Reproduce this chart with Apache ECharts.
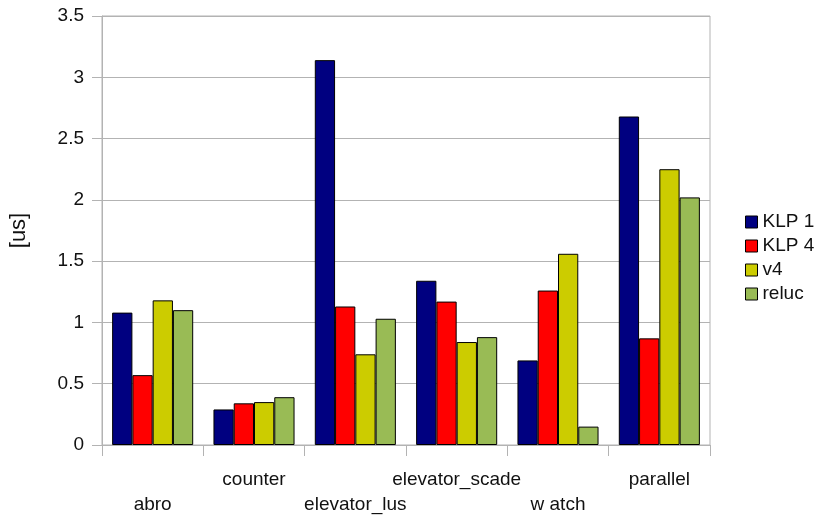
<!DOCTYPE html>
<html><head><meta charset="utf-8">
<script src="https://cdn.jsdelivr.net/npm/echarts@6/dist/echarts.min.js"></script>
<style>html,body{margin:0;padding:0;background:#fff}#c{width:825px;height:517px}</style>
</head><body><div id="c"></div>
<script>
const categories = ['abro','counter','elevator_lus','elevator_scade','w atch','parallel'];
const klp1 = [1.08, 0.29, 3.14, 1.34, 0.69, 2.68];
const klp4 = [0.57, 0.34, 1.13, 1.17, 1.26, 0.87];
const v4   = [1.18, 0.35, 0.74, 0.84, 1.56, 2.25];
const reluc= [1.10, 0.39, 1.03, 0.88, 0.15, 2.02];
const yTicks = [0, 0.5, 1, 1.5, 2, 2.5, 3, 3.5];

const names = ['KLP 1','KLP 4','v4','reluc'];
const colors = ['#000080','#ff0000','#cccc00','#99bb55'];
const datasets = [klp1, klp4, v4, reluc];
const gray = '#b3b3b3';
const font = 'Liberation Sans, Arial, sans-serif';

const chart = echarts.init(document.getElementById('c'), null, {renderer:'canvas'});
chart.setOption({
  animation:false,
  grid:{left:100, right:115, top:16, bottom:68, show:true, borderColor:gray, borderWidth:1},
  legend:{
    orient:'vertical', left:740, top:206, itemWidth:12, itemHeight:12, itemGap:2,
    icon:'rect',
    textStyle:{fontFamily:font, fontSize:19, color:'#111', lineHeight:22},
    itemStyle:{borderColor:'#000', borderWidth:1},
    data:names
  },
  xAxis:{
    type:'category', data:categories,
    axisLine:{lineStyle:{color:gray}},
    axisTick:{show:true, length:11, interval:0, lineStyle:{color:gray}},
    axisLabel:{
      interval:0, margin:22, fontFamily:font, fontSize:19, color:'#111', lineHeight:25,
      formatter:(v, i)=> (i % 2 === 0 ? '\n' + v : v)
    }
  },
  yAxis:{
    type:'value', min:0, max:3.5, interval:0.5,
    name:'[us]', nameLocation:'middle', nameGap:72, nameRotate:90,
    nameTextStyle:{fontFamily:font, fontSize:22, color:'#111'},
    axisLine:{show:true, lineStyle:{color:gray}},
    axisTick:{show:true, length:10, lineStyle:{color:gray}},
    axisLabel:{margin:18, fontFamily:font, fontSize:19, color:'#111',
      formatter:v=> yTicks.includes(v) ? String(v) : ''},
    splitLine:{lineStyle:{color:gray}}
  },
  series: names.map((n,i)=>({
    name:n, type:'bar', data:datasets[i],
    barGap:'0%', barCategoryGap:'20%',
    itemStyle:{color:colors[i], borderColor:'#000', borderWidth:1}
  }))
});
</script></body></html>
